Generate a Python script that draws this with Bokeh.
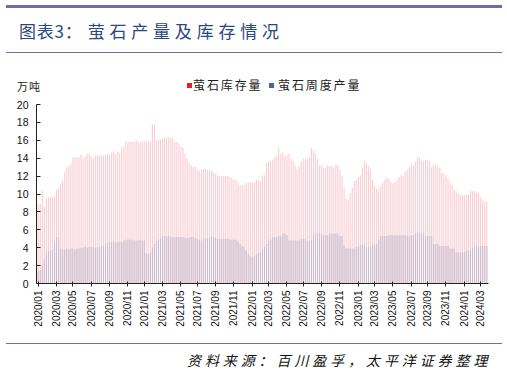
import pandas as pd
from bokeh.plotting import figure
from bokeh.models import (Div, FixedTicker, DatetimeTickFormatter, Range1d,
                          ColumnDataSource)
from bokeh.layouts import column
from bokeh.embed import file_html
from bokeh.resources import INLINE

# ---------------- data (weekly, 万吨) ----------------
start_date = "2020-01-03"
inventory = [
    8.9, 8.9, 10.4, 8.6, 9.5, 9.6, 9.6, 9.6, 9.8, 10.5,
    10.7, 11.1, 11.5, 12.5, 13.0, 13.1, 13.4, 14.1, 14.1, 14.1,
    14.1, 14.4, 14.0, 14.2, 14.5, 14.5, 14.2, 14.0, 14.3, 14.3,
    14.3, 14.3, 14.3, 14.3, 14.4, 14.4, 14.6, 14.8, 14.5, 14.7,
    14.6, 15.2, 15.3, 15.9, 15.8, 15.8, 15.8, 15.8, 16.0, 15.9,
    15.8, 15.9, 15.9, 15.8, 15.9, 15.9, 17.8, 17.8, 16.0, 16.1,
    16.1, 16.2, 16.3, 16.3, 16.3, 16.3, 16.2, 15.8, 15.8, 15.6,
    15.3, 15.2, 14.5, 14.0, 13.5, 13.2, 13.0, 13.1, 12.7, 12.6,
    12.7, 12.8, 12.8, 12.7, 12.7, 12.6, 12.4, 12.3, 12.1, 12.0,
    12.0, 12.0, 12.0, 12.0, 11.9, 11.8, 11.6, 11.6, 11.3, 11.0,
    11.0, 11.0, 11.2, 11.3, 11.3, 11.3, 11.3, 11.6, 11.6, 11.4,
    12.1, 12.1, 13.4, 13.7, 13.7, 13.8, 14.1, 14.3, 15.1, 14.5,
    14.6, 14.3, 14.3, 14.5, 13.9, 13.7, 13.2, 12.7, 13.1, 13.6,
    14.0, 13.9, 13.9, 14.1, 15.1, 14.9, 14.5, 13.9, 13.2, 13.2,
    12.9, 12.9, 13.2, 13.1, 13.1, 13.0, 13.3, 13.3, 12.7, 12.0,
    10.7, 9.4, 9.4, 10.1, 10.7, 11.4, 11.6, 11.9, 12.1, 13.0,
    13.7, 13.4, 13.1, 12.8, 11.6, 10.9, 10.6, 10.5, 10.9, 11.3,
    11.6, 11.8, 11.7, 11.4, 11.2, 11.4, 11.6, 11.9, 12.1, 12.0,
    12.5, 12.7, 13.0, 13.3, 13.2, 13.6, 14.0, 14.1, 13.7, 13.7,
    13.8, 13.8, 13.7, 13.0, 13.3, 13.2, 13.1, 12.9, 12.4, 12.3,
    12.1, 11.8, 11.3, 11.0, 10.6, 10.3, 10.1, 9.9, 9.9, 9.9,
    9.9, 9.9, 10.4, 10.3, 10.3, 10.1, 10.1, 9.6, 9.3, 9.1,
    9.1,
]
production = [
    1.3, 1.5, 2.0, 2.7, 3.3, 3.6, 3.7, 3.8, 4.6, 5.2,
    5.1, 3.9, 3.8, 3.8, 3.9, 3.8, 3.9, 3.9, 3.8, 3.9,
    3.9, 4.0, 4.0, 4.1, 4.0, 4.1, 4.1, 4.1, 4.0, 4.1,
    4.1, 4.2, 4.2, 4.5, 4.6, 4.6, 4.6, 4.7, 4.6, 4.6,
    4.7, 4.6, 4.8, 4.9, 4.9, 4.9, 4.9, 4.8, 4.8, 4.8,
    4.9, 4.8, 4.8, 3.4, 3.3, 3.5, 4.0, 4.4, 4.8, 5.0,
    5.1, 5.3, 5.3, 5.3, 5.3, 5.2, 5.2, 5.2, 5.2, 5.2,
    5.2, 5.2, 5.1, 5.1, 5.1, 5.2, 5.2, 5.1, 5.0, 4.9,
    4.8, 5.0, 5.0, 5.0, 5.2, 5.3, 5.2, 5.1, 5.0, 5.0,
    5.0, 5.0, 5.0, 5.0, 4.9, 4.9, 4.9, 4.9, 4.7, 4.4,
    4.2, 4.1, 3.7, 3.3, 3.1, 3.0, 3.1, 3.2, 3.4, 3.5,
    3.8, 4.1, 4.4, 4.8, 5.0, 5.2, 5.2, 5.2, 5.3, 5.3,
    5.6, 5.6, 5.4, 4.8, 4.8, 4.8, 4.8, 4.8, 4.8, 5.0,
    5.0, 5.0, 4.8, 4.8, 4.9, 5.5, 5.7, 5.6, 5.6, 5.5,
    5.4, 5.4, 5.4, 5.6, 5.6, 5.6, 5.6, 5.6, 5.3, 5.3,
    4.3, 3.9, 3.9, 3.9, 3.9, 3.9, 4.1, 4.1, 4.3, 4.3,
    4.3, 4.1, 4.1, 4.1, 4.3, 4.3, 4.4, 4.9, 5.3, 5.3,
    5.3, 5.3, 5.4, 5.4, 5.4, 5.4, 5.4, 5.4, 5.4, 5.4,
    5.4, 5.3, 5.3, 5.4, 5.4, 5.6, 5.7, 5.7, 5.6, 5.6,
    5.3, 5.3, 5.3, 5.3, 4.4, 4.4, 4.4, 4.2, 4.2, 4.2,
    4.2, 4.2, 3.9, 3.9, 3.9, 3.5, 3.5, 3.5, 3.5, 3.5,
    3.7, 3.7, 3.7, 4.0, 4.1, 4.1, 4.1, 4.2, 4.2, 4.2,
    4.2,
]
series_names = ["萤石库存量", "萤石周度产量"]
y_ticks = [0, 2, 4, 6, 8, 10, 12, 14, 16, 18, 20]
unit_label = "万吨"
title_a = "图表3："
title_b = "萤石产量及库存情况"
source_text = "资料来源：百川盈孚，太平洋证券整理"

weeks = pd.date_range(start_date, periods=len(inventory), freq="7D")
src = ColumnDataSource(dict(week=weeks, inv=inventory, prod=production))

# tick at first week of every odd month
tick_dates = []
prev_m = None
for d in weeks:
    if d.month != prev_m and d.month % 2 == 1:
        tick_dates.append(d)
    prev_m = d.month
tick_ms = [d.value / 1e6 for d in tick_dates]

WEEK = 7 * 24 * 3600 * 1000
DAY = 24 * 3600 * 1000

INV_BAR = "#f8ced4"
PROD_BAR = "#cbbfcf"
INV_KEY = "#e3202b"
PROD_KEY = "#3c67a9"
LINE = "#6a6ea8"
CJK = "'Noto Sans CJK SC'"

# ---------------- header (title + legend + unit) ----------------
header = Div(width=507, height=97, margin=0, text=f"""
<div style="position:relative;width:507px;height:97px;font-family:{CJK};">
 <div style="position:absolute;left:6px;top:5px;width:496px;height:3px;background:{LINE};"></div>
 <div style="position:absolute;left:19px;top:22px;font-size:17px;line-height:17px;color:#2a477f;white-space:nowrap;"><span style="letter-spacing:0.8px">{title_a}</span><span style="letter-spacing:4.8px;margin-left:5px">{title_b}</span></div>
 <div style="position:absolute;left:6px;top:52px;width:496px;height:1px;background:{LINE};"></div>
 <div style="position:absolute;left:17px;top:80px;font-size:11px;line-height:12px;color:#222;letter-spacing:1px;white-space:nowrap;">{unit_label}</div>
 <div style="position:absolute;left:187px;top:83px;width:5px;height:5px;background:{INV_KEY};"></div>
 <div style="position:absolute;left:193px;top:79px;font-size:12px;line-height:12px;color:#222;letter-spacing:1.9px;white-space:nowrap;">{series_names[0]}</div>
 <div style="position:absolute;left:269px;top:83px;width:5px;height:5px;background:{PROD_KEY};"></div>
 <div style="position:absolute;left:278px;top:79px;font-size:12px;line-height:12px;color:#222;letter-spacing:1.9px;white-space:nowrap;">{series_names[1]}</div>
</div>""")

# ---------------- chart ----------------
p = figure(width=507, height=243, x_axis_type="datetime",
           output_backend="svg", toolbar_location=None,
           min_border_left=36, min_border_right=19,
           min_border_top=7, min_border_bottom=57)
p.x_range = Range1d(weeks[0].value / 1e6 - 6 * DAY, weeks[-1].value / 1e6 + 6 * DAY)
p.y_range = Range1d(0, 20)
p.outline_line_color = None
p.xgrid.visible = False
p.ygrid.visible = False
p.background_fill_color = "white"
p.border_fill_color = "white"

p.vbar(x="week", top="inv", width=0.55 * WEEK, source=src,
       fill_color=INV_BAR, line_color=None, legend_label=series_names[0])
p.vbar(x="week", top="prod", width=0.55 * WEEK, source=src,
       fill_color=PROD_BAR, line_color=None, legend_label=series_names[1])
p.legend.visible = False

# axes
xa = p.xaxis[0]
xa.ticker = FixedTicker(ticks=tick_ms)
fmt = "%Y/%m"
xa.formatter = DatetimeTickFormatter(microseconds=fmt, milliseconds=fmt, seconds=fmt,
                                     minsec=fmt, minutes=fmt, hourmin=fmt, hours=fmt,
                                     days=fmt, months=fmt, years=fmt)
xa.major_label_orientation = 1.5707963
xa.major_label_text_font = "Liberation Sans"
xa.major_label_text_font_size = "10px"
xa.major_label_text_color = "#111111"
xa.major_tick_in = 2
xa.major_tick_out = 3
xa.major_label_standoff = 4
xa.minor_tick_line_color = None
xa.axis_line_color = "#222222"
xa.major_tick_line_color = "#222222"

ya = p.yaxis[0]
ya.ticker = FixedTicker(ticks=y_ticks)
ya.major_label_text_font = "Liberation Sans"
ya.major_label_text_font_size = "10.5px"
ya.major_label_text_color = "#111111"
ya.major_tick_in = 4
ya.major_tick_out = 0
ya.major_label_standoff = 8
ya.minor_tick_line_color = None
ya.axis_line_color = "#222222"
ya.major_tick_line_color = "#222222"

# ---------------- footer ----------------
footer = Div(width=507, height=31, margin=0, text=f"""
<div style="position:relative;width:507px;height:31px;">
 <div style="position:absolute;left:6px;top:3px;width:496px;height:1px;background:{LINE};"></div>
 <div style="position:absolute;left:187px;top:13px;font-family:{CJK};font-size:14px;line-height:14px;font-style:italic;letter-spacing:3.9px;color:#111111;white-space:nowrap;">{source_text}</div>
</div>""")

layout = column(header, p, footer, spacing=0)
open("out.html", "w").write(file_html(layout, INLINE))
